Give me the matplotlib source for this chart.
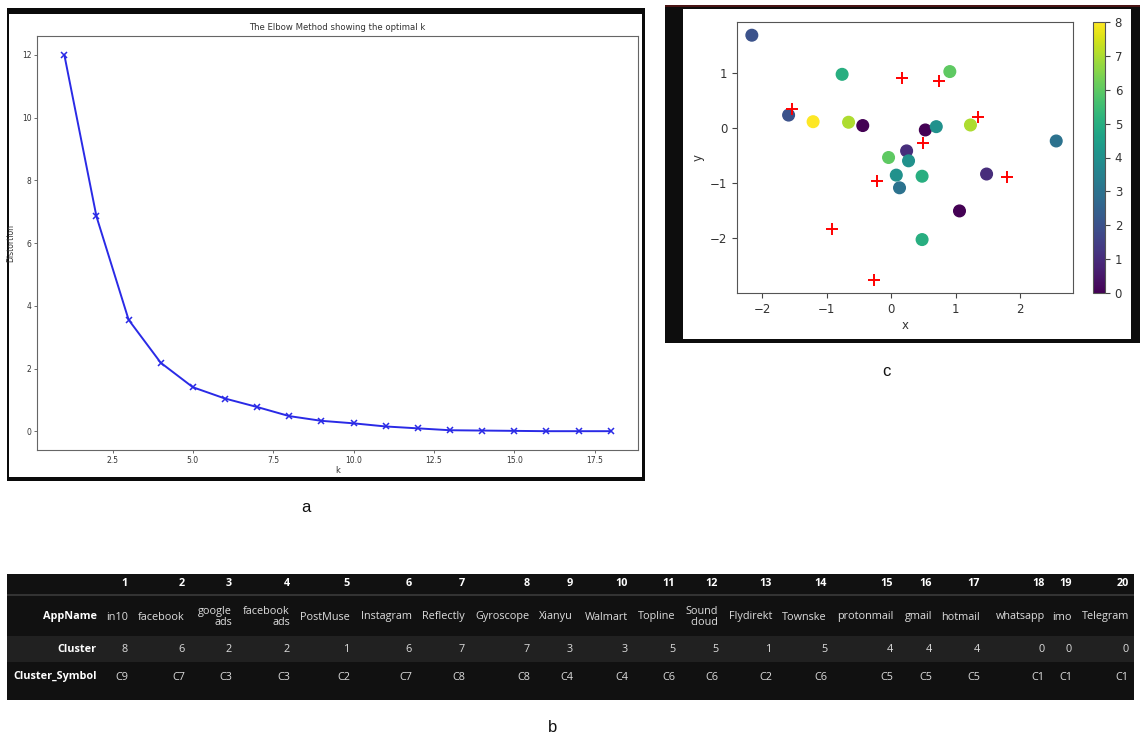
# three panels: elbow curve (a), app cluster table (b), cluster scatter (c)
import matplotlib
matplotlib.use("Agg")
import matplotlib.pyplot as plt
from matplotlib.patches import Rectangle

W, H = 1144, 742

# (a) elbow method
K = list(range(1, 19))
DISTORTION = [12.0, 6.85, 3.56, 2.19, 1.41, 1.05, 0.78, 0.49, 0.34,
              0.26, 0.16, 0.10, 0.04, 0.03, 0.02, 0.01, 0.01, 0.01]

# (c) points coloured by cluster + red centres
PX = [-2.16, -0.76, 0.91, -1.59, -1.21, -0.66, -0.44, 0.53, 0.70, 1.23,
      2.56, 0.24, -0.04, 0.27, 0.08, 0.48, 1.48, 0.13, 1.06, 0.48]
PY = [1.68, 0.97, 1.02, 0.23, 0.11, 0.10, 0.04, -0.04, 0.02, 0.05,
      -0.24, -0.42, -0.54, -0.60, -0.86, -0.88, -0.84, -1.09, -1.51, -2.03]
PC = [2, 5, 6, 2, 8, 7, 0, 0, 4, 7, 3, 1, 6, 4, 4, 5, 1, 3, 0, 5]
CX = [-1.53, 0.17, 0.74, 1.35, 0.50, -0.22, 1.79, -0.92, -0.26]
CY = [0.34, 0.90, 0.84, 0.20, -0.27, -0.96, -0.89, -1.84, -2.77]

# (b) table
COLS = [str(i) for i in range(1, 21)]
APPS = ["in10", "facebook", "google\nads", "facebook\nads", "PostMuse", "Instagram",
        "Reflectly", "Gyroscope", "Xianyu", "Walmart", "Topline", "Sound\ncloud",
        "Flydirekt", "Townske", "protonmail", "gmail", "hotmail", "whatsapp", "imo",
        "Telegram"]
CLUSTER = [8, 6, 2, 2, 1, 6, 7, 7, 3, 3, 5, 5, 1, 5, 4, 4, 4, 0, 0, 0]
SYMBOL = ["C%d" % (c + 1) for c in CLUSTER]
ROW_LABELS = ["AppName", "Cluster", "Cluster_Symbol"]

# right edge of each table column, in pixels
COL_RIGHT = [128, 185, 232, 290, 350, 412, 465, 530, 573, 628, 675, 718, 772,
             827, 893, 932, 980, 1045, 1072, 1129]

NARROW = ["Liberation Sans Narrow", "DejaVu Sans"]


def box(x0, y0, x1, y1):
    # pixel box (top-left origin) -> figure fraction rect
    return [x0 / W, 1 - y1 / H, (x1 - x0) / W, (y1 - y0) / H]


def rect(fig, x0, y0, x1, y1, color, z=0):
    fig.add_artist(Rectangle((x0 / W, 1 - y1 / H), (x1 - x0) / W, (y1 - y0) / H,
                             transform=fig.transFigure, facecolor=color,
                             edgecolor="none", zorder=z))


def elbow(fig):
    rect(fig, 7, 8, 645, 481, "#0a0a0a")
    rect(fig, 9, 14, 642, 477, "white")
    ax = fig.add_axes(box(37, 36, 638, 450))
    ax.plot(K, DISTORTION, "x-", color="#2a2ae6", lw=1.4, ms=4, mew=1.1)
    ax.set_xticks([2.5, 5.0, 7.5, 10.0, 12.5, 15.0, 17.5])
    ax.set_yticks(range(0, 13, 2))
    for lab in ax.get_xticklabels() + ax.get_yticklabels():
        lab.set_family(NARROW)
        lab.set_fontsize(5.5)
        lab.set_color("#333333")
    ax.tick_params(length=2, width=0.6, color="#555555", pad=2)
    for s in ax.spines.values():
        s.set_color("#666666")
        s.set_linewidth(0.8)
    ax.set_title("The Elbow Method showing the optimal k", family=NARROW,
                 fontsize=6.1, color="#333333", pad=4)
    ax.set_xlabel("k", family=NARROW, fontsize=6, color="#333333", labelpad=1)
    ax.set_ylabel("Distortion", family=NARROW, fontsize=5.5, color="#333333", labelpad=5)


def scatter(fig):
    rect(fig, 665, 5, 1140, 343, "#0d0d0d")
    rect(fig, 665, 5, 1140, 7, "#4a1414", z=1)
    rect(fig, 683, 9, 1131, 339, "white")
    ax = fig.add_axes(box(737, 22, 1073, 293))
    sc = ax.scatter(PX, PY, c=PC, cmap="viridis", s=70, vmin=0, vmax=8)
    ax.scatter(CX, CY, marker="+", c="red", s=80, linewidths=1.4)
    ax.set_xlim(-2.39, 2.82)
    ax.set_ylim(-3.0, 1.92)
    ax.set_xticks([-2, -1, 0, 1, 2])
    ax.set_yticks([-2, -1, 0, 1])
    ax.tick_params(labelsize=8.5, labelcolor="#333333", color="#444444")
    for s in ax.spines.values():
        s.set_color("#555555")
    ax.set_xlabel("x", fontsize=8.5, color="#333333", labelpad=2)
    ax.set_ylabel("y", fontsize=8.5, color="#333333", labelpad=4)
    cax = fig.add_axes(box(1093, 22, 1105, 293))
    cb = fig.colorbar(sc, cax=cax, ticks=range(0, 9))
    cb.outline.set_edgecolor("#555555")
    cax.tick_params(labelsize=8.5, labelcolor="#333333", color="#444444")


def table(fig):
    rect(fig, 7, 574, 1134, 700, "#111111")
    ax = fig.add_axes(box(7, 574, 1134, 700))
    ax.set_xlim(7, 1134)
    ax.set_ylim(700, 574)
    ax.axis("off")
    ax.axhspan(636, 662, color="#212121", lw=0)
    ax.axhline(595, color="#3a3a3a", lw=1.2)
    kw = dict(family=["Open Sans", "DejaVu Sans"], fontsize=7.8, ha="right", va="center")
    rows_y = [617, 650, 677]
    for lab, y in zip(ROW_LABELS, rows_y):
        ax.text(97, y, lab, color="white", fontweight="bold", **kw)
    for i, xr in enumerate(COL_RIGHT):
        ax.text(xr, 583, COLS[i], color="white", fontweight="bold", **kw)
        ax.text(xr, 617, APPS[i], color="#dddddd", linespacing=1.1, **kw)
        ax.text(xr, 650, str(CLUSTER[i]), color="#dddddd", **kw)
        ax.text(xr, 677, SYMBOL[i], color="#dddddd", **kw)


def main():
    fig = plt.figure(figsize=(W / 100, H / 100), dpi=100)
    fig.patch.set_facecolor("white")
    elbow(fig)
    scatter(fig)
    table(fig)
    lab = dict(fontsize=12, family=["Liberation Sans", "DejaVu Sans"], ha="center",
               va="center", color="#111111")
    fig.text(306 / W, 1 - 508 / H, "a", **lab)
    fig.text(886 / W, 1 - 372 / H, "c", **lab)
    fig.text(553 / W, 1 - 727 / H, "b", **lab)
    fig.savefig("out.png", dpi=100)


if __name__ == "__main__":
    main()
